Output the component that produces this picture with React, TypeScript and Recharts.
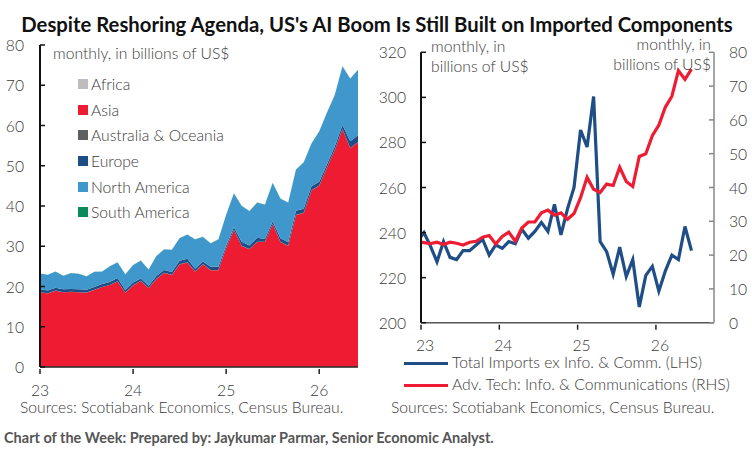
import React from 'react';
import { AreaChart, Area, LineChart, Line, XAxis, YAxis, Legend } from 'recharts';

// Jan-23 to Jun-26, monthly
const africa = [0.05,0.05,0.05,0.05,0.05,0.05,0.05,0.05,0.05,0.05,0.05,0.05,0.05,0.05,0.05,0.05,0.05,0.05,0.05,0.05,0.05,0.05,0.05,0.05,0.05,0.05,0.05,0.05,0.05,0.05,0.05,0.05,0.05,0.05,0.05,0.05,0.05,0.05,0.05,0.05,0.05,0.05];
const asia = [18.5,18.2,18.9,18.5,18.6,18.5,18.4,19.1,19.8,20.3,21.2,18.4,20.2,21.3,19.5,21.8,23.3,22.8,25.4,25.9,23.6,25.5,24,24,29.5,34,30,29.2,31,31,35.5,31,30,37.7,38.2,43.8,45,49.5,53.8,59,54.3,55.8];
const oceania = [0.05,0.05,0.05,0.05,0.05,0.05,0.05,0.05,0.05,0.05,0.05,0.05,0.05,0.05,0.05,0.05,0.05,0.05,0.05,0.05,0.05,0.05,0.05,0.05,0.05,0.05,0.05,0.05,0.05,0.05,0.05,0.05,0.05,0.05,0.05,0.05,0.05,0.05,0.05,0.05,0.05,0.05];
const europe = [0.7,0.7,0.7,0.7,0.7,0.7,0.7,0.7,0.7,0.7,0.8,0.6,0.7,0.6,0.6,0.7,0.7,0.7,0.9,0.9,0.7,0.6,0.8,0.8,0.6,0.6,1,0.9,1,0.7,0.6,0.9,0.9,1,1,1,0.9,0.8,0.9,1,1.7,1.7];
const northAmerica = [3.9,3.9,4,3.3,3.9,3.8,3.3,3.7,3.1,3.9,3.9,3.9,4.3,4.4,4,4.9,5.1,5.5,5.6,6,7.3,6.1,5.8,6.8,7.6,8.4,8.9,8.5,8.7,8.5,9.5,9.8,9.8,10.2,11.5,10.6,12.5,12.8,12.7,14.6,15.5,16.2];
const southAmerica = [0.05,0.05,0.05,0.05,0.05,0.05,0.05,0.05,0.05,0.05,0.05,0.05,0.05,0.05,0.05,0.05,0.05,0.05,0.05,0.05,0.05,0.05,0.05,0.05,0.05,0.05,0.05,0.05,0.05,0.05,0.05,0.05,0.05,0.05,0.05,0.05,0.05,0.05,0.05,0.05,0.05,0.05];

// Dec-22 to Jun-26
const totalImports = [236,240,234,227,236,229,228,232,232,234.5,237,230,234.5,233,236,235,241.5,237.5,240.5,244.5,240.5,252.5,239,250.5,260,285.5,278,300.4,236,231.5,221.5,233.5,220.5,228,207,221,225,214,223,230,228,242.7,232];
const advTech = [24,23.7,23.4,23.8,23.1,23.8,23.5,23,23.8,24.1,25.3,25.8,23.3,25.5,26.8,24.1,28,29.8,29.8,32.5,33.3,31.8,32.5,30.6,32.3,37,43,39.5,38.5,41,40.6,46,41.8,40.3,49.2,50,55.3,58.5,63.8,67,74.6,72,75];

const yearTicks = [0, 12, 24, 36];
const yearLabels = ['23', '24', '25', '26'];
const leftTicks = [0, 10, 20, 30, 40, 50, 60, 70, 80];
const lhsTicks = [200, 220, 240, 260, 280, 300, 320];
const rhsTicks = [0, 10, 20, 30, 40, 50, 60, 70, 80];

const stackData = asia.map((v, i) => ({
  m: i,
  africa: africa[i],
  asia: v,
  oceania: oceania[i],
  europe: europe[i],
  northAmerica: northAmerica[i],
  southAmerica: southAmerica[i],
}));

const lineData = totalImports.map((v, i) => ({
  m: i - 1 + 0.45,
  imports: v,
  tech: advTech[i],
}));

const FONT = 'Lato, sans-serif';
const TEXT = '#3a3a3a';
const FS = 15.7;

function leftTick(inset: number, gap: number, stroke: string) {
  return (p: any) => (
    <g>
      <line x1={p.x} x2={p.x + inset} y1={p.y} y2={p.y} stroke={stroke} strokeWidth={1.5} />
      <text x={p.x - gap} y={p.y} textAnchor="end" dominantBaseline="central" fontSize={FS} fontWeight={300} fill={TEXT} fontFamily={FONT}>
        {p.payload.value}
      </text>
    </g>
  );
}

function rightTick(p: any) {
  return (
    <g>
      <line x1={p.x} x2={p.x - 5} y1={p.y} y2={p.y} stroke="#888" strokeWidth={1.5} />
      <text x={p.x + 15} y={p.y} textAnchor="start" dominantBaseline="central" fontSize={FS} fontWeight={300} fill={TEXT} fontFamily={FONT}>
        {p.payload.value}
      </text>
    </g>
  );
}

function yearTick(shift: number, drop: number) {
  return (p: any) => (
    <g>
      <line x1={p.x} x2={p.x} y1={p.y} y2={p.y + 5} stroke="#222" strokeWidth={1.5} />
      <text x={p.x + shift} y={p.y + drop} textAnchor="middle" dominantBaseline="central" fontSize={FS} fontWeight={300} fill={TEXT} fontFamily={FONT}>
        {yearLabels[yearTicks.indexOf(p.payload.value)]}
      </text>
    </g>
  );
}

function Note({ style, children }: { style: React.CSSProperties; children: React.ReactNode }) {
  return (
    <div style={{ position: 'absolute', fontFamily: FONT, fontSize: FS, fontWeight: 300, color: TEXT, whiteSpace: 'nowrap', lineHeight: '20px', ...style }}>
      {children}
    </div>
  );
}

function AreaLegend({ payload }: any) {
  return (
    <div>
      {payload.map((e: any) => (
        <div key={e.value} style={{ height: 25.6, display: 'flex', alignItems: 'center', fontFamily: FONT, fontSize: FS, fontWeight: 300, color: TEXT }}>
          <span style={{ width: 10, height: 10, background: e.color, marginRight: 3 }} />
          {e.value}
        </div>
      ))}
    </div>
  );
}

function LineLegend({ payload }: any) {
  return (
    <div>
      {payload.map((e: any) => (
        <div key={e.value} style={{ height: 22, display: 'flex', alignItems: 'center', fontFamily: FONT, fontSize: FS, fontWeight: 300, lineHeight: 1, color: TEXT, whiteSpace: 'nowrap' }}>
          <span style={{ width: 44, height: 3, background: e.color, marginRight: 4 }} />
          {e.value}
        </div>
      ))}
    </div>
  );
}

export default function App() {
  return (
    <div style={{ position: 'absolute', left: 0, top: 0, width: 752, height: 449, background: '#fff', overflow: 'hidden' }}>
      <div style={{ position: 'absolute', left: 0, width: 754, top: 10, textAlign: 'center', fontFamily: FONT, fontSize: 20.3, fontWeight: 700, color: '#111', whiteSpace: 'nowrap', lineHeight: '28px' }}>
        Despite Reshoring Agenda, US's AI Boom Is Still Built on Imported Components
      </div>

      <div style={{ position: 'absolute', left: 0, top: 0 }}>
        <AreaChart width={376} height={400} data={stackData} margin={{ top: 45, right: 18, left: 0, bottom: 0 }}>
          <XAxis dataKey="m" type="number" domain={[0, 41]} ticks={yearTicks} height={33} tickSize={0} tickLine={false} axisLine={{ stroke: '#222', strokeWidth: 1.5 }} tick={yearTick(0, 21)} interval={0} />
          <YAxis width={40} domain={[0, 80]} ticks={leftTicks} tickSize={0} tickMargin={0} tickLine={false} axisLine={{ stroke: '#111', strokeWidth: 2 }} tick={leftTick(5, 16, '#111')} interval={0} />
          <Area stackId="r" dataKey="africa" name="Africa" stroke="none" fill="#bdbdbd" fillOpacity={1} isAnimationActive={false} />
          <Area stackId="r" dataKey="asia" name="Asia" stroke="none" fill="#ee1c33" fillOpacity={1} isAnimationActive={false} />
          <Area stackId="r" dataKey="oceania" name="Australia & Oceania" stroke="none" fill="#5f5f5f" fillOpacity={1} isAnimationActive={false} />
          <Area stackId="r" dataKey="europe" name="Europe" stroke="none" fill="#1f4e86" fillOpacity={1} isAnimationActive={false} />
          <Area stackId="r" dataKey="northAmerica" name="North America" stroke="none" fill="#3f97cb" fillOpacity={1} isAnimationActive={false} />
          <Area stackId="r" dataKey="southAmerica" name="South America" stroke="none" fill="#0c8a5c" fillOpacity={1} isAnimationActive={false} />
          <Legend layout="vertical" align="center" verticalAlign="middle" itemSorter={null} content={<AreaLegend />} wrapperStyle={{ left: 78, top: 71.5, width: 200 }} />
        </AreaChart>
      </div>

      <div style={{ position: 'absolute', left: 376, top: 0 }}>
        <LineChart width={376} height={400} data={lineData} margin={{ top: 52.3, right: 0, left: 0, bottom: 0 }}>
          <XAxis dataKey="m" type="number" domain={[0, 44.9]} allowDataOverflow ticks={yearTicks} height={77.3} tickSize={0} tickLine={false} axisLine={{ stroke: '#555', strokeWidth: 1.5 }} tick={yearTick(4, 20)} interval={0} />
          <YAxis yAxisId="lhs" width={45} domain={[200, 320]} ticks={lhsTicks} tickSize={0} tickMargin={0} tickLine={false} axisLine={{ stroke: '#111', strokeWidth: 2 }} tick={leftTick(5, 15, '#111')} interval={0} />
          <YAxis yAxisId="rhs" orientation="right" width={38} domain={[0, 80]} ticks={rhsTicks} tickSize={0} tickMargin={0} tickLine={false} axisLine={{ stroke: '#888', strokeWidth: 1.5 }} tick={rightTick} interval={0} />
          <Line yAxisId="lhs" dataKey="imports" name="Total Imports ex Info. & Comm. (LHS)" stroke="#1f4e86" strokeWidth={3.2} dot={false} isAnimationActive={false} />
          <Line yAxisId="rhs" dataKey="tech" name="Adv. Tech: Info. & Communications (RHS)" stroke="#ee1c33" strokeWidth={3.2} dot={false} isAnimationActive={false} />
          <Legend layout="vertical" align="center" verticalAlign="middle" itemSorter={null} content={<LineLegend />} wrapperStyle={{ left: 28, top: 352, width: 340 }} />
        </LineChart>
      </div>

      <Note style={{ left: 53, top: 43 }}>monthly, in billions of US$</Note>
      <Note style={{ left: 431, top: 36 }}>monthly, in<br />billions of US$</Note>
      <Note style={{ right: 41, top: 34, textAlign: 'right' }}>monthly, in<br />billions of US$</Note>
      <Note style={{ left: 20, top: 397 }}>Sources: Scotiabank Economics, Census Bureau.</Note>
      <Note style={{ left: 391, top: 397 }}>Sources: Scotiabank Economics, Census Bureau.</Note>
      <div style={{ position: 'absolute', left: 4, top: 430, fontFamily: FONT, fontSize: 14.5, fontWeight: 700, color: '#555', whiteSpace: 'nowrap', lineHeight: '16px' }}>
        Chart of the Week: Prepared by: Jaykumar Parmar, Senior Economic Analyst.
      </div>
    </div>
  );
}
